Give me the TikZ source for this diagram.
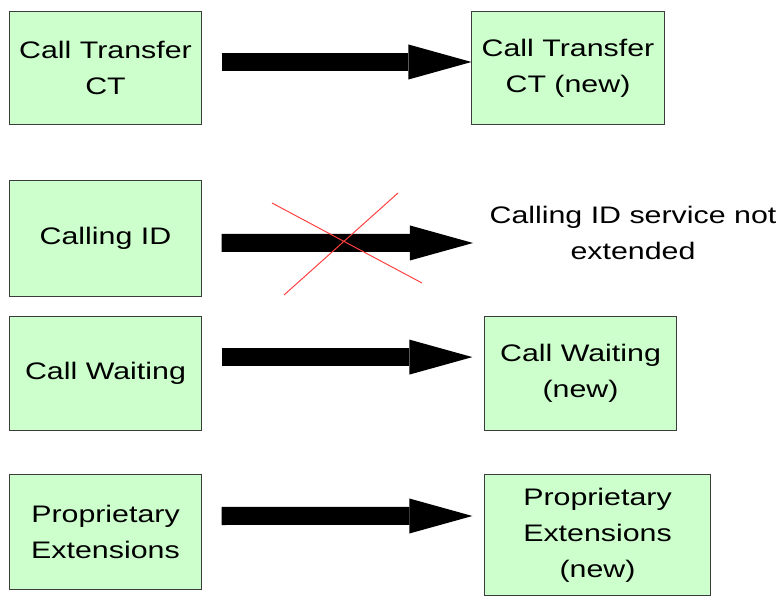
\documentclass[tikz,border=0pt]{standalone}
\usepackage{fontspec}
\setmainfont{Liberation Sans}[FakeStretch=1.27]
\usetikzlibrary{arrows.meta}

\definecolor{boxgreen}{RGB}{204,255,204}
\definecolor{boxline}{RGB}{60,60,60}

\begin{document}
\begin{tikzpicture}[x=0.025cm, y=-0.025cm,
  font=\fontsize{17pt}{25.6pt}\selectfont,
  service/.style={draw=boxline, line width=0.7pt, fill=boxgreen, align=center,
    inner sep=0pt, minimum width=4.78cm, minimum height=2.83cm},
  bigarrow/.style={line width=0.45cm, shorten <=0.5cm,
    -{Triangle[length=1.575cm, width=0.875cm, line width=0pt]}},
]

\useasboundingbox (0,0) rectangle (784,597);

% old services
\node[service, minimum height=2.8cm] (ct) at (105.5,68) {Call Transfer\\CT};
\node[service, minimum height=2.88cm] (cid) at (105.5,238.5) {Calling ID};
\node[service] (cw) at (105.5,373.5) {Call Waiting};
\node[service, minimum height=2.85cm] (pe) at (105.5,532) {Proprietary\\Extensions};

% new services
\node[service, minimum width=4.8cm, minimum height=2.8cm] (ctnew) at (568,68) {Call Transfer\\CT (new)};
\node[align=center, inner sep=0pt] (cidtxt) at (633,233) {Calling ID service not\\extended};
\node[service] (cwnew) at (580.5,373.5) {Call Waiting\\(new)};
\node[service, minimum width=5.63cm, minimum height=3cm] (penew) at (597.5,535) {Proprietary\\Extensions\\(new)};

\coordinate (cidtip) at (473,243);

% arrows
\draw[bigarrow] ([yshift=0.15cm]ct.east) -- ([yshift=0.15cm]ctnew.west);
\draw[bigarrow] ([yshift=-0.11cm]cid.east) -- (cidtip);
\draw[bigarrow, shorten >=0.3cm] ([yshift=0.41cm]cw.east) -- ([yshift=0.41cm]cwnew.west);
\draw[bigarrow, shorten >=0.3cm] ([yshift=0.4cm]pe.east) -- ([yshift=0.475cm]penew.west);

% crossed out
\draw[red!75, line width=0.7pt] (272,203) -- (422,283) (398,193) -- (284,295);

\end{tikzpicture}
\end{document}
